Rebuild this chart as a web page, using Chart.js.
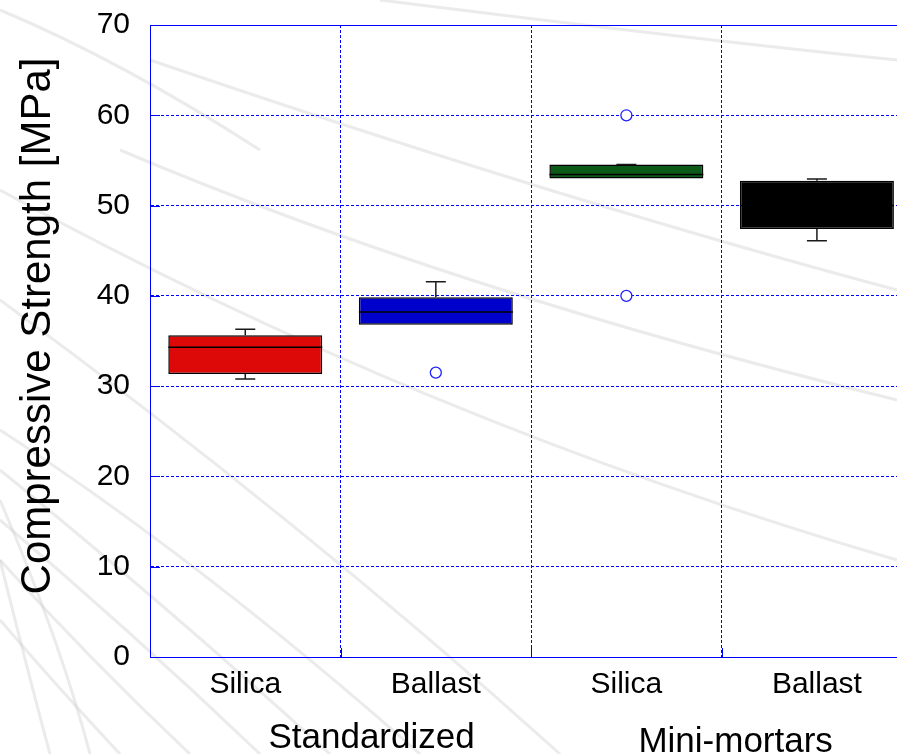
<!DOCTYPE html>
<html>
<head>
<meta charset="utf-8">
<script src="https://cdn.jsdelivr.net/npm/chart.js@4.4.1/dist/chart.umd.min.js"></script>
<style>
  html, body { margin: 0; padding: 0; background: #ffffff; overflow: hidden; }
  #wrap { width: 919px; height: 754px; }
</style>
</head>
<body>
<div id="wrap"><canvas id="c" width="919" height="754"></canvas></div>
<script>
// Compressive strength box plots (MPa)
const categories = ['Silica', 'Ballast', 'Silica', 'Ballast'];
const groupNames = ['Standardized', 'Mini-mortars'];
const yTicks = [0, 10, 20, 30, 40, 50, 60, 70];

const whiskerLow  = [30.8, 36.8, 53.0, 46.1];
const quartile1   = [31.35, 36.8, 53.0, 47.4];
const medians     = [34.3, 38.2, 53.45, 50.0];
const quartile3   = [35.65, 39.85, 54.55, 52.75];
const whiskerHigh = [36.3, 41.55, 54.55, 52.95];
const outlierUpper = [null, null, 60.0, null];
const outlierLower = [null, 31.5, 40.0, null];

const boxColors = ['#dd0808', '#0000cc', '#0b5a17', '#000000'];

const FONT = '"Liberation Sans", Arial, Helvetica, sans-serif';
const AXIS_BLUE = '#0000ff';

// faint sweeping lines behind the plot
const backdrop = {
  id: 'backdrop',
  beforeDraw(chart) {
    const ctx = chart.ctx;
    ctx.save();
    ctx.fillStyle = '#ffffff';
    ctx.fillRect(0, 0, chart.width, chart.height);
    ctx.strokeStyle = 'rgba(205,205,205,0.4)';
    ctx.lineWidth = 3;
    const curves = [
      [0, 190, 420, 420, 897, 560],
      [120, 150, 450, 290, 897, 400],
      [150, 60, 560, 200, 897, 290],
      [380, 0, 700, 40, 897, 60],
      [0, 10, 120, 60, 260, 150],
      [0, 300, 300, 520, 560, 754],
      [0, 430, 200, 560, 420, 754],
      [0, 470, 160, 600, 330, 754],
      [0, 520, 130, 630, 260, 754],
      [0, 560, 90, 660, 190, 754],
      [0, 620, 60, 690, 120, 754],
      [0, 500, 60, 640, 90, 754],
      [0, 560, 30, 680, 50, 754]
    ];
    curves.forEach(c => {
      ctx.beginPath();
      ctx.moveTo(c[0], c[1]);
      ctx.quadraticCurveTo(c[2], c[3], c[4], c[5]);
      ctx.stroke();
    });
    ctx.restore();
  }
};

// whiskers and medians drawn on top of the floating bars
const boxParts = {
  id: 'boxParts',
  afterDatasetsDraw(chart) {
    const ctx = chart.ctx;
    const y = chart.scales.y;
    const meta = chart.getDatasetMeta(0);
    ctx.save();
    meta.data.forEach((bar, i) => {
      const cx = bar.x;
      const half = bar.width / 2;
      const pHi = y.getPixelForValue(whiskerHigh[i]);
      const pQ3 = y.getPixelForValue(quartile3[i]);
      const pQ1 = y.getPixelForValue(quartile1[i]);
      const pLo = y.getPixelForValue(whiskerLow[i]);
      const pMed = y.getPixelForValue(medians[i]);
      ctx.strokeStyle = '#1a1a1a';
      ctx.lineWidth = 1.5;
      ctx.beginPath();
      if (whiskerHigh[i] > quartile3[i]) {
        ctx.moveTo(cx, pQ3); ctx.lineTo(cx, pHi);
      }
      ctx.moveTo(cx - 10, pHi); ctx.lineTo(cx + 10, pHi);
      if (whiskerLow[i] < quartile1[i]) {
        ctx.moveTo(cx, pQ1); ctx.lineTo(cx, pLo);
        ctx.moveTo(cx - 10, pLo); ctx.lineTo(cx + 10, pLo);
      }
      ctx.stroke();
      ctx.strokeStyle = '#000000';
      ctx.lineWidth = 1.5;
      ctx.beginPath();
      ctx.moveTo(cx - half, pMed); ctx.lineTo(cx + half, pMed);
      ctx.stroke();
    });
    ctx.restore();
  }
};

// frame: top border, inward ticks, axis title and group captions
const frame = {
  id: 'frame',
  afterDraw(chart) {
    const ctx = chart.ctx;
    const {left, right, top, bottom} = chart.chartArea;
    const x = chart.scales.x;
    const y = chart.scales.y;
    ctx.save();
    ctx.strokeStyle = AXIS_BLUE;
    ctx.lineWidth = 1;
    ctx.beginPath();
    ctx.moveTo(left, Math.round(top) + 0.5);
    ctx.lineTo(right, Math.round(top) + 0.5);
    yTicks.forEach(v => {
      const py = Math.round(y.getPixelForValue(v)) + 0.5;
      ctx.moveTo(left, py); ctx.lineTo(left + 10, py);
    });
    for (let i = 0; i < categories.length - 1; i++) {
      const px = Math.round((x.getPixelForValue(i) + x.getPixelForValue(i + 1)) / 2) + 0.5;
      ctx.moveTo(px, bottom); ctx.lineTo(px, bottom - 9);
    }
    ctx.stroke();

    ctx.fillStyle = '#000000';
    ctx.font = '42px ' + FONT;
    ctx.textAlign = 'center';
    ctx.textBaseline = 'alphabetic';
    ctx.translate(50, (top + bottom) / 2 - 15);
    ctx.rotate(-Math.PI / 2);
    ctx.fillText('Compressive Strength [MPa]', 0, 0);
    ctx.setTransform(1, 0, 0, 1, 0, 0);

    ctx.font = '35px ' + FONT;
    const g1 = (x.getPixelForValue(0) + x.getPixelForValue(1)) / 2 + 31;
    const g2 = (x.getPixelForValue(2) + x.getPixelForValue(3)) / 2 + 14;
    ctx.fillText(groupNames[0], g1, 748);
    ctx.fillText(groupNames[1], g2, 752);
    ctx.restore();
  }
};

new Chart(document.getElementById('c'), {
  type: 'bar',
  data: {
    labels: categories,
    datasets: [
      {
        type: 'bar',
        data: categories.map((_, i) => [quartile1[i], quartile3[i]]),
        backgroundColor: boxColors,
        borderColor: '#000000',
        borderWidth: 1.5,
        borderSkipped: false,
        categoryPercentage: 1.0,
        barPercentage: 0.808,
        order: 2
      },
      {
        type: 'line',
        data: outlierUpper,
        showLine: false,
        pointRadius: 5.5,
        pointBorderWidth: 1.3,
        pointBorderColor: '#2020ff',
        pointBackgroundColor: '#ffffff',
        order: 1
      },
      {
        type: 'line',
        data: outlierLower,
        showLine: false,
        pointRadius: 5.5,
        pointBorderWidth: 1.3,
        pointBorderColor: '#2020ff',
        pointBackgroundColor: '#ffffff',
        order: 1
      }
    ]
  },
  options: {
    responsive: false,
    animation: false,
    devicePixelRatio: 1,
    layout: { padding: { top: 25, right: 0, left: 0, bottom: 0 } },
    plugins: {
      legend: { display: false },
      tooltip: { enabled: false }
    },
    scales: {
      x: {
        type: 'category',
        offset: true,
        grid: {
          offset: true,
          color: AXIS_BLUE,
          lineWidth: 1,
          drawTicks: false
        },
        border: { display: true, color: AXIS_BLUE, width: 1, dash: [3, 2] },
        ticks: {
          color: '#000000',
          font: { family: FONT, size: 30 },
          padding: 10,
          maxRotation: 0,
          autoSkip: false
        },
        afterFit(scale) {
          scale.height = 97;
          scale.paddingLeft = 0;
          scale.paddingRight = 0;
        }
      },
      y: {
        min: 0,
        max: 70,
        afterBuildTicks(scale) { scale.ticks = yTicks.map(v => ({ value: v })); },
        grid: {
          color: AXIS_BLUE,
          lineWidth: 1,
          drawTicks: false
        },
        border: { display: true, color: AXIS_BLUE, width: 1, dash: [3, 2] },
        ticks: {
          color: '#000000',
          font: { family: FONT, size: 30 },
          padding: 20
        },
        afterFit(scale) {
          scale.width = 150;
          scale.paddingTop = 0;
          scale.paddingBottom = 0;
        }
      }
    }
  },
  plugins: [backdrop, boxParts, frame]
});
</script>
</body>
</html>
